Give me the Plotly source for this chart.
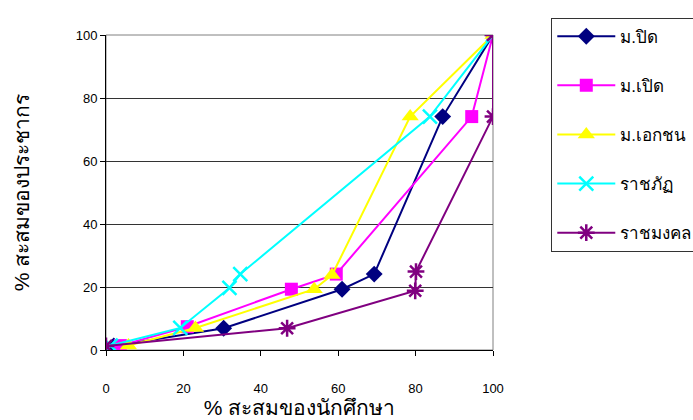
import plotly.graph_objects as go

# Cumulative share of students (x) vs cumulative share of population (y), by institution type
names = ["ม.ปิด", "ม.เปิด", "ม.เอกชน", "ราชภัฏ", "ราชมงคล"]

x_closed = [2.0, 30.4, 61.0, 69.3, 87.0, 100]
y_closed = [1.3, 6.9, 19.3, 24.1, 74.1, 100]

x_open = [3.7, 21.0, 47.9, 59.5, 94.5, 100]
y_open = [1.4, 7.4, 19.3, 24.1, 74.1, 100]

x_private = [5.8, 23.1, 53.8, 58.4, 78.6, 100]
y_private = [1.4, 7.0, 19.3, 23.8, 74.1, 100]

x_rajabhat = [1.2, 19.2, 31.9, 34.7, 83.7, 100]
y_rajabhat = [1.4, 7.0, 19.7, 24.1, 74.1, 100]

x_rajamangala = [0.0, 46.8, 79.9, 80.1, 100, 100]
y_rajamangala = [1.3, 6.9, 18.8, 24.9, 74.1, 100]

x_ticks = [0, 20, 40, 60, 80, 100]
y_ticks = [0, 20, 40, 60, 80, 100]

series = [
    (x_closed, y_closed, "#000080", dict(symbol="diamond", size=13)),
    (x_open, y_open, "#FF00FF", dict(symbol="square", size=13)),
    (x_private, y_private, "#FFFF00", dict(symbol="triangle-up", size=15)),
    (x_rajabhat, y_rajabhat, "#00FFFF", dict(symbol="x-thin-open", size=14, line=dict(width=2.5, color="#00FFFF"))),
    (x_rajamangala, y_rajamangala, "#800080", dict(symbol="asterisk-open", size=14, line=dict(width=2.5, color="#800080"))),
]

fig = go.Figure()
for name, (xs, ys, color, mk) in zip(names, series):
    mk = dict(mk)
    mk.setdefault("color", color)
    fig.add_trace(go.Scatter(
        x=xs, y=ys, name=name, mode="lines+markers",
        line=dict(color=color, width=2), marker=mk,
        legendgroup=name,
    ))

font_family = "Liberation Sans, Arial, sans-serif"

fig.update_layout(
    width=693, height=420,
    margin=dict(l=105.5, r=199.7, t=35, b=70, autoexpand=False),
    paper_bgcolor="white", plot_bgcolor="white",
    font=dict(family=font_family, color="black", size=13),
    showlegend=True,
    legend=dict(
        x=1.1506, y=1.055, xanchor="left", yanchor="top",
        bordercolor="#333333", borderwidth=1, bgcolor="white",
        font=dict(size=17, family=font_family),
        tracegroupgap=24, itemwidth=58, maxheight=400,
    ),
    shapes=[dict(type="rect", xref="paper", yref="paper", x0=0, x1=1, y0=0, y1=1,
                 line=dict(color="#808080", width=1), layer="below")],
)

fig.update_xaxes(
    range=[0, 100], tickvals=x_ticks, showgrid=False, zeroline=False,
    showline=True, linecolor="black", linewidth=1,
    ticks="outside", ticklen=5, tickcolor="black",
    ticklabelstandoff=21,
    title=dict(text="% สะสมของนักศึกษา", font=dict(size=21), standoff=2),
)
fig.update_yaxes(
    range=[0, 100], tickvals=y_ticks, showgrid=True, gridcolor="#333333", gridwidth=1,
    zeroline=False, showline=True, linecolor="black", linewidth=1,
    ticks="outside", ticklen=5, tickcolor="black",
    title=dict(text="% สะสมของประชากร", font=dict(size=21), standoff=40),
)

fig.write_html("out.html")
